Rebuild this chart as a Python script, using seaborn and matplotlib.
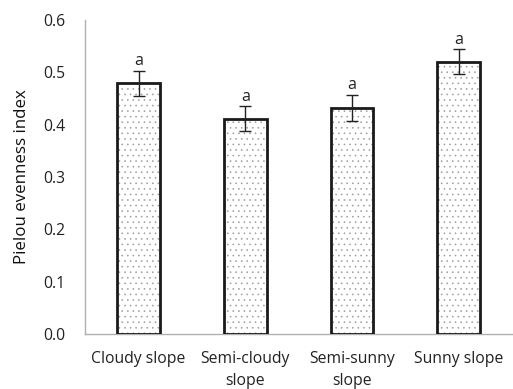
import matplotlib
matplotlib.use("Agg")
import matplotlib.pyplot as plt
import seaborn as sns
import pandas as pd
from matplotlib.patches import Rectangle

categories = ["Cloudy slope", "Semi-cloudy\nslope", "Semi-sunny\nslope", "Sunny slope"]
values = [0.479, 0.411, 0.432, 0.520]
errors = [0.024, 0.024, 0.025, 0.024]
letters = ["a", "a", "a", "a"]
yticks = [0.0, 0.1, 0.2, 0.3, 0.4, 0.5, 0.6]

sns.set_style("white")
plt.rcParams["font.family"] = ["Open Sans", "DejaVu Sans"]
plt.rcParams["hatch.linewidth"] = 0.4

df = pd.DataFrame({"cat": categories, "val": values})

fig = plt.figure(figsize=(5.13, 3.89), dpi=100)
ax = fig.add_axes([0.166, 0.141, 0.832, 0.808])

sns.barplot(data=df, x="cat", y="val", ax=ax, color="white", width=0.40,
            errorbar=None, edgecolor="#9a9a9a", linewidth=0, hatch="...")

for p in list(ax.patches):
    ax.add_patch(Rectangle(p.get_xy(), p.get_width(), p.get_height(), fill=False,
                           edgecolor="#1a1a1a", linewidth=2.0, zorder=3))

xs = list(range(len(categories)))
ax.errorbar(xs, values, yerr=errors, fmt="none", ecolor="#222222", elinewidth=1.0,
            capsize=4, capthick=1.0, zorder=4)
for x, v, e, l in zip(xs, values, errors, letters):
    ax.text(x, v + e + 0.003, l, ha="center", va="bottom", fontsize=11.5, color="#222222")

ax.set_ylim(0, 0.6)
ax.set_xlim(-0.5, 3.5)
ax.set_yticks(yticks)
ax.set_yticklabels([f"{t:.1f}" for t in yticks])
ax.set_xlabel("")
ax.set_ylabel("Pielou evenness index", fontsize=12.2, color="#111111", labelpad=10)

ax.set_xticks([-0.5, 0.5, 1.5, 2.5, 3.5], minor=False)
ax.set_xticklabels([])
ax.set_xticks(xs, minor=True)
ax.set_xticklabels(categories, minor=True, fontsize=11.3, color="#222222", linespacing=1.55)
ax.tick_params(axis="x", which="minor", length=0, pad=12)
ax.tick_params(axis="x", which="major", length=5, color="#b0b0b0", direction="out")
ax.tick_params(axis="y", length=5, color="#b0b0b0", direction="out", labelsize=11.3,
               labelcolor="#222222", pad=9)

for s in ["top", "right"]:
    ax.spines[s].set_visible(False)
for s in ["left", "bottom"]:
    ax.spines[s].set_color("#b0b0b0")
    ax.spines[s].set_linewidth(1.0)

fig.savefig("out.png", dpi=100)
